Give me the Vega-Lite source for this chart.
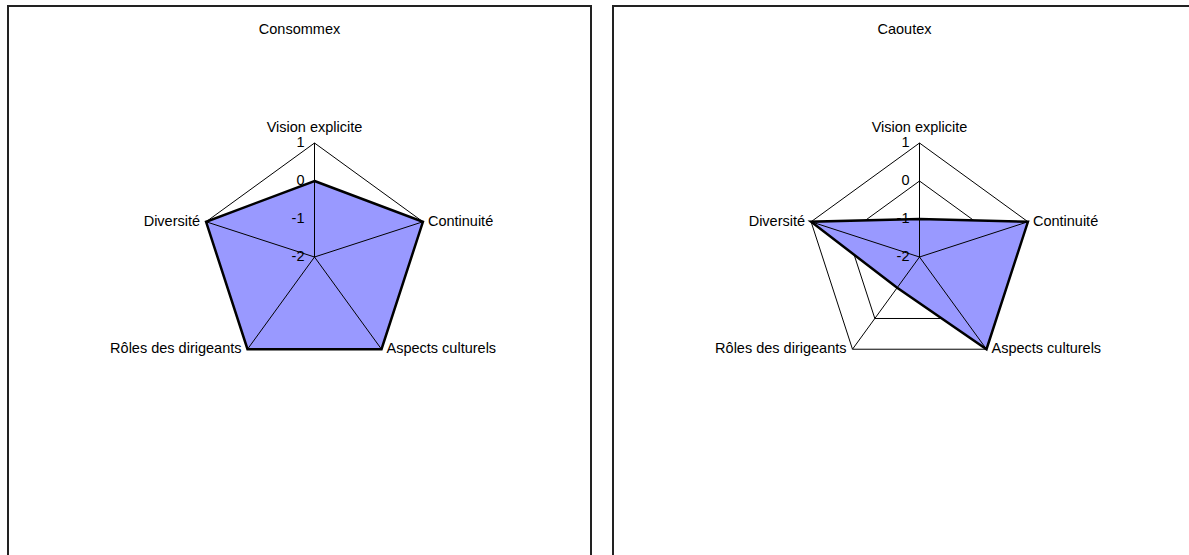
{
  "$schema": "https://vega.github.io/schema/vega-lite/v6.json",
  "padding": {"left": 7, "top": 5, "right": 0, "bottom": 0},
  "spacing": 20,
  "background": "white",
  "config": {
    "view": {"stroke": "#222222", "strokeWidth": 2},
    "font": "Liberation Sans",
    "text": {"font": "Liberation Sans", "fontSize": 14.5, "color": "black"},
    "title": {"font": "Liberation Sans", "fontSize": 14.5, "fontWeight": "normal", "color": "black", "anchor": "middle", "baseline": "alphabetic", "offset": -31}
  },
  "datasets": {
    "axes": [
      {"axis": "Vision explicite", "levels": [-1, 0, 1]},
      {"axis": "Continuité", "levels": [-1, 0, 1]},
      {"axis": "Aspects culturels", "levels": [-1, 0, 1]},
      {"axis": "Rôles des dirigeants", "levels": [-1, 0, 1]},
      {"axis": "Diversité", "levels": [-1, 0, 1]}
    ],
    "scores": [
      {"company": "Consommex", "axis": "Vision explicite", "value": 0},
      {"company": "Consommex", "axis": "Continuité", "value": 1},
      {"company": "Consommex", "axis": "Aspects culturels", "value": 1},
      {"company": "Consommex", "axis": "Rôles des dirigeants", "value": 1},
      {"company": "Consommex", "axis": "Diversité", "value": 1},
      {"company": "Caoutex", "axis": "Vision explicite", "value": -1},
      {"company": "Caoutex", "axis": "Continuité", "value": 1},
      {"company": "Caoutex", "axis": "Aspects culturels", "value": 1},
      {"company": "Caoutex", "axis": "Rôles des dirigeants", "value": -1},
      {"company": "Caoutex", "axis": "Diversité", "value": 1}
    ],
    "ticks": [
      {"tick": 1}, {"tick": 0}, {"tick": -1}, {"tick": -2}
    ]
  },
  "hconcat": [
    {
      "title": "Consommex",
      "width": 583,
      "height": 560,
      "encoding": {
        "x": {"field": "x", "type": "quantitative", "scale": {"domain": [-2.6886, 2.4254], "nice": false, "zero": false}, "axis": null},
        "y": {"field": "y", "type": "quantitative", "scale": {"domain": [-2.7105, 2.2018], "nice": false, "zero": false}, "axis": null}
      },
      "layer": [
        {
          "data": {"name": "axes"},
          "transform": [
            {"window": [{"op": "row_number", "as": "idx"}]},
            {"flatten": ["levels"], "as": ["level"]},
            {"calculate": "(datum.idx-1)*2*PI/5", "as": "angle"},
            {"calculate": "(datum.level+2)/3", "as": "r"},
            {"calculate": "datum.r*sin(datum.angle)", "as": "x"},
            {"calculate": "datum.r*cos(datum.angle)", "as": "y"}
          ],
          "mark": {"type": "line", "interpolate": "linear-closed", "stroke": "black", "strokeWidth": 1},
          "encoding": {"detail": {"field": "level", "type": "nominal"}, "order": {"field": "idx", "type": "quantitative"}}
        },
        {
          "data": {"name": "scores"},
          "transform": [
            {"filter": "datum.company === 'Consommex'"},
            {"window": [{"op": "row_number", "as": "idx"}]},
            {"calculate": "(datum.idx-1)*2*PI/5", "as": "angle"},
            {"calculate": "(datum.value+2)/3", "as": "r"},
            {"calculate": "datum.r*sin(datum.angle)", "as": "x"},
            {"calculate": "datum.r*cos(datum.angle)", "as": "y"}
          ],
          "mark": {"type": "line", "interpolate": "linear-closed", "fill": "#9999FF", "stroke": null, "strokeWidth": 0},
          "encoding": {"order": {"field": "idx", "type": "quantitative"}}
        },
        {
          "data": {"name": "axes"},
          "transform": [
            {"window": [{"op": "row_number", "as": "idx"}]},
            {"calculate": "(datum.idx-1)*2*PI/5", "as": "angle"},
            {"calculate": "sin(datum.angle)", "as": "x"},
            {"calculate": "cos(datum.angle)", "as": "y"}
          ],
          "mark": {"type": "rule", "stroke": "black", "strokeWidth": 1},
          "encoding": {"x2": {"datum": 0}, "y2": {"datum": 0}}
        },
        {
          "data": {"name": "scores"},
          "transform": [
            {"filter": "datum.company === 'Consommex'"},
            {"window": [{"op": "row_number", "as": "idx"}]},
            {"calculate": "(datum.idx-1)*2*PI/5", "as": "angle"},
            {"calculate": "(datum.value+2)/3", "as": "r"},
            {"calculate": "datum.r*sin(datum.angle)", "as": "x"},
            {"calculate": "datum.r*cos(datum.angle)", "as": "y"}
          ],
          "mark": {"type": "line", "interpolate": "linear-closed", "stroke": "black", "strokeWidth": 2.5},
          "encoding": {"order": {"field": "idx", "type": "quantitative"}}
        },
        {
          "data": {"name": "ticks"},
          "transform": [
            {"calculate": "0", "as": "x"},
            {"calculate": "(datum.tick+2)/3", "as": "y"}
          ],
          "mark": {"type": "text", "align": "right", "baseline": "middle", "dx": -10},
          "encoding": {"text": {"field": "tick", "type": "nominal"}}
        },
        {
          "data": {"name": "axes"},
          "transform": [
            {"window": [{"op": "row_number", "as": "idx"}]},
            {"filter": "datum.idx === 1"},
            {"calculate": "(datum.idx-1)*2*PI/5", "as": "angle"},
            {"calculate": "sin(datum.angle)", "as": "x"},
            {"calculate": "cos(datum.angle)", "as": "y"}
          ],
          "mark": {"type": "text", "align": "center", "baseline": "alphabetic", "dy": -11},
          "encoding": {"text": {"field": "axis", "type": "nominal"}}
        },
        {
          "data": {"name": "axes"},
          "transform": [
            {"window": [{"op": "row_number", "as": "idx"}]},
            {"filter": "datum.idx === 2 || datum.idx === 3"},
            {"calculate": "(datum.idx-1)*2*PI/5", "as": "angle"},
            {"calculate": "sin(datum.angle)", "as": "x"},
            {"calculate": "cos(datum.angle)", "as": "y"}
          ],
          "mark": {"type": "text", "align": "left", "baseline": "middle", "dx": 5},
          "encoding": {"text": {"field": "axis", "type": "nominal"}}
        },
        {
          "data": {"name": "axes"},
          "transform": [
            {"window": [{"op": "row_number", "as": "idx"}]},
            {"filter": "datum.idx === 4 || datum.idx === 5"},
            {"calculate": "(datum.idx-1)*2*PI/5", "as": "angle"},
            {"calculate": "sin(datum.angle)", "as": "x"},
            {"calculate": "cos(datum.angle)", "as": "y"}
          ],
          "mark": {"type": "text", "align": "right", "baseline": "middle", "dx": -6},
          "encoding": {"text": {"field": "axis", "type": "nominal"}}
        }
      ]
    },
    {
      "title": "Caoutex",
      "width": 583,
      "height": 560,
      "encoding": {
        "x": {"field": "x", "type": "quantitative", "scale": {"domain": [-2.6886, 2.4254], "nice": false, "zero": false}, "axis": null},
        "y": {"field": "y", "type": "quantitative", "scale": {"domain": [-2.7105, 2.2018], "nice": false, "zero": false}, "axis": null}
      },
      "layer": [
        {
          "data": {"name": "axes"},
          "transform": [
            {"window": [{"op": "row_number", "as": "idx"}]},
            {"flatten": ["levels"], "as": ["level"]},
            {"calculate": "(datum.idx-1)*2*PI/5", "as": "angle"},
            {"calculate": "(datum.level+2)/3", "as": "r"},
            {"calculate": "datum.r*sin(datum.angle)", "as": "x"},
            {"calculate": "datum.r*cos(datum.angle)", "as": "y"}
          ],
          "mark": {"type": "line", "interpolate": "linear-closed", "stroke": "black", "strokeWidth": 1},
          "encoding": {"detail": {"field": "level", "type": "nominal"}, "order": {"field": "idx", "type": "quantitative"}}
        },
        {
          "data": {"name": "scores"},
          "transform": [
            {"filter": "datum.company === 'Caoutex'"},
            {"window": [{"op": "row_number", "as": "idx"}]},
            {"calculate": "(datum.idx-1)*2*PI/5", "as": "angle"},
            {"calculate": "(datum.value+2)/3", "as": "r"},
            {"calculate": "datum.r*sin(datum.angle)", "as": "x"},
            {"calculate": "datum.r*cos(datum.angle)", "as": "y"}
          ],
          "mark": {"type": "line", "interpolate": "linear-closed", "fill": "#9999FF", "stroke": null, "strokeWidth": 0},
          "encoding": {"order": {"field": "idx", "type": "quantitative"}}
        },
        {
          "data": {"name": "axes"},
          "transform": [
            {"window": [{"op": "row_number", "as": "idx"}]},
            {"calculate": "(datum.idx-1)*2*PI/5", "as": "angle"},
            {"calculate": "sin(datum.angle)", "as": "x"},
            {"calculate": "cos(datum.angle)", "as": "y"}
          ],
          "mark": {"type": "rule", "stroke": "black", "strokeWidth": 1},
          "encoding": {"x2": {"datum": 0}, "y2": {"datum": 0}}
        },
        {
          "data": {"name": "scores"},
          "transform": [
            {"filter": "datum.company === 'Caoutex'"},
            {"window": [{"op": "row_number", "as": "idx"}]},
            {"calculate": "(datum.idx-1)*2*PI/5", "as": "angle"},
            {"calculate": "(datum.value+2)/3", "as": "r"},
            {"calculate": "datum.r*sin(datum.angle)", "as": "x"},
            {"calculate": "datum.r*cos(datum.angle)", "as": "y"}
          ],
          "mark": {"type": "line", "interpolate": "linear-closed", "stroke": "black", "strokeWidth": 2.5},
          "encoding": {"order": {"field": "idx", "type": "quantitative"}}
        },
        {
          "data": {"name": "ticks"},
          "transform": [
            {"calculate": "0", "as": "x"},
            {"calculate": "(datum.tick+2)/3", "as": "y"}
          ],
          "mark": {"type": "text", "align": "right", "baseline": "middle", "dx": -10},
          "encoding": {"text": {"field": "tick", "type": "nominal"}}
        },
        {
          "data": {"name": "axes"},
          "transform": [
            {"window": [{"op": "row_number", "as": "idx"}]},
            {"filter": "datum.idx === 1"},
            {"calculate": "(datum.idx-1)*2*PI/5", "as": "angle"},
            {"calculate": "sin(datum.angle)", "as": "x"},
            {"calculate": "cos(datum.angle)", "as": "y"}
          ],
          "mark": {"type": "text", "align": "center", "baseline": "alphabetic", "dy": -11},
          "encoding": {"text": {"field": "axis", "type": "nominal"}}
        },
        {
          "data": {"name": "axes"},
          "transform": [
            {"window": [{"op": "row_number", "as": "idx"}]},
            {"filter": "datum.idx === 2 || datum.idx === 3"},
            {"calculate": "(datum.idx-1)*2*PI/5", "as": "angle"},
            {"calculate": "sin(datum.angle)", "as": "x"},
            {"calculate": "cos(datum.angle)", "as": "y"}
          ],
          "mark": {"type": "text", "align": "left", "baseline": "middle", "dx": 5},
          "encoding": {"text": {"field": "axis", "type": "nominal"}}
        },
        {
          "data": {"name": "axes"},
          "transform": [
            {"window": [{"op": "row_number", "as": "idx"}]},
            {"filter": "datum.idx === 4 || datum.idx === 5"},
            {"calculate": "(datum.idx-1)*2*PI/5", "as": "angle"},
            {"calculate": "sin(datum.angle)", "as": "x"},
            {"calculate": "cos(datum.angle)", "as": "y"}
          ],
          "mark": {"type": "text", "align": "right", "baseline": "middle", "dx": -6},
          "encoding": {"text": {"field": "axis", "type": "nominal"}}
        }
      ]
    }
  ]
}
